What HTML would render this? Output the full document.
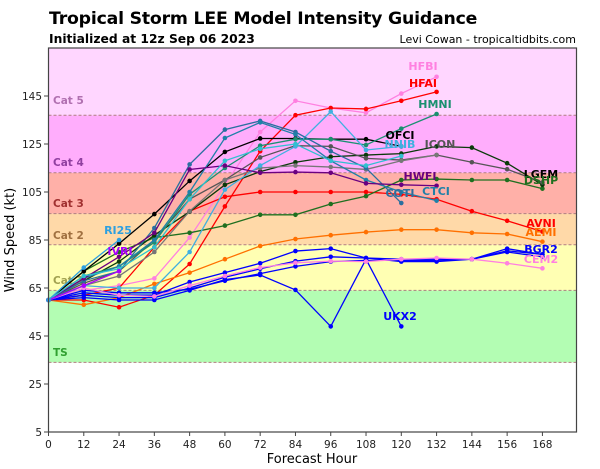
<!DOCTYPE html>
<html><head><meta charset="utf-8"><style>
html,body{margin:0;padding:0;background:#fff;}
svg{display:block;font-family:"DejaVu Sans","Liberation Sans",sans-serif;}
</style></head><body>
<svg id="s" width="600" height="469" xmlns="http://www.w3.org/2000/svg">
<text x="49" y="24" font-size="17.3" font-weight="bold" fill="#000" letter-spacing="-0.2">Tropical Storm LEE Model Intensity Guidance</text>
<text x="49" y="43" font-size="12.3" font-weight="bold" fill="#000">Initialized at 12z Sep 06 2023</text>
<text x="576" y="43" font-size="11" text-anchor="end" fill="#000">Levi Cowan - tropicaltidbits.com</text>
<g id="bands"></g>
<g id="lines"></g>
<g id="labels"></g>
<rect x="48.5" y="48" width="528" height="384" fill="none" stroke="#444" stroke-width="1.2"/>
<g id="ticks" font-size="10.5" fill="#222"></g>
<text x="312" y="463" font-size="13" text-anchor="middle">Forecast Hour</text>
<text transform="translate(14,240) rotate(-90)" font-size="13" text-anchor="middle">Wind Speed (kt)</text>
</svg>
<script>
var NS="http://www.w3.org/2000/svg";
function X(h){return 48.5+h*2.94;}
function Y(k){return 432-(k-5)*2.4;}
function el(p,t,a,txt){var e=document.createElementNS(NS,t);for(var k in a)e.setAttribute(k,a[k]);if(txt!=null)e.textContent=txt;document.getElementById(p).appendChild(e);return e;}
var bands=[[34,64,"#b3fdb3"],[64,83,"#ffffb3"],[83,96,"#ffd9a8"],[96,113,"#ffb0a8"],[113,137,"#ffadfc"],[137,165,"#ffd6ff"]];
bands.forEach(function(b){el("bands","rect",{x:48.5,y:Y(b[1]),width:528,height:Y(b[0])-Y(b[1]),fill:b[2]});});
[34,64,83,96,113,137].forEach(function(k){el("bands","line",{x1:48.5,x2:576.5,y1:Y(k),y2:Y(k),stroke:"#b08080","stroke-width":1,"stroke-dasharray":"3,2"});});
var cats=[["Cat 5",104,"#b070b0"],["Cat 4",166,"#9040a0"],["Cat 3",207,"#a03030"],["Cat 2",239,"#a07040"],["Cat 1",284,"#a0a050"],["TS",356,"#30a030"]];
cats.forEach(function(c){el("bands","text",{x:53,y:c[1],"font-size":10.5,"font-weight":"bold",fill:c[2]},c[0]);});
var H=[0,12,24,36,48,60,72,84,96,108,120,132,144,156,168];
var S=[
["#ff80e0",[60,64,66,69,86,108,130,143,140,138,146,153]],
["#ff0000",[60,60,57,62,75,99,122,137,140,139.6,143,146.7]],
["#ff0000",[60,62,65,82,97,103,105,105,105,105,104,102,97,93,88.5]],
["#ff7000",[60,58,61,66.7,71.4,77,82.5,85.4,87,88.3,89.3,89.3,88,87.5,84.3]],
["#0000ff",[60,63,62,62,67.5,71.4,75.3,80.4,81.4,77.5,77,77,77,81.4,79]],
["#0000ff",[60,62,61,61,65,69.5,73,76.2,78,77.5,76,76,77,80,78]],
["#0000ff",[60,61,60,60,64,68.5,70.4,64.2,49,77,49]],
["#0000ff",[60,64,63,63,64.5,68,71,74,76,76.5,76.5,76.5,77,80.5,79]],
["#ff80e0",[60,65,62,61.5,66,70,73.5,75.5,76.2,76,77,77.5,77,75.3,73.2]],
["#1f6f1f",[60,72,80,86,88,91,95.5,95.5,100,103.3,110,110.4,110,110,106.4]],
["#0a3a0a",[60,68,76,87,96.8,108,113.5,117.4,119.7,120.4,121,124,123.5,117,108]],
["#555555",[60,67,72,85,102,110,119.4,124.3,124,119,118.3,120.4,117.4,114.5,109]],
["#777777",[60,66,70,80,97,110,115,116,115.4,114.4,118,120.4]],
["#000000",[60,72,83.5,95.8,109.6,121.7,127.3,127.3,127,127,124]],
["#1a9070",[60,70,74,84,104,115,124.3,127,127,124.6,131.4,137.5]],
["#40b0e0",[60,66,65,65,80,106,116,124,138.5,122.5,124]],
["#2a6f9f",[60,68,72,90,116.5,131,134.6,130,122,115,100.4]],
["#1f80a8",[60,69,74,85,105,127.5,134,129,118,110,105,101.4]],
["#6a0080",[60,69,78,88,114.4,116,113,113.3,113,108.6,108,107.6]],
["#30c0d0",[60,70,73,82,102,118,123,125,118,116,120]],
["#aa00ff",[60,66,72]],
["#2ea0e0",[60,73.5,85]]
];
S.forEach(function(s){var pts=s[1].map(function(v,i){return X(H[i])+","+Y(v);}).join(" ");
el("lines","polyline",{points:pts,fill:"none",stroke:s[0],"stroke-width":1.3});
s[1].forEach(function(v,i){el("lines","circle",{cx:X(H[i]),cy:Y(v),r:2.3,fill:s[0]});});});
var L=[["HFBI",423,70,"#ff80e0"],["HFAI",423,87,"#ff0000"],["HMNI",435,108,"#1a9070"],["OFCI",400,139,"#000"],["NNIB",400,148,"#40b0e0"],["ICON",440,148,"#555"],["HWFI",420,180,"#6a0080"],["COTI",400,197,"#2a6f9f"],["CTCI",436,195,"#1f80a8"],["LGEM",541,178,"#000"],["DSHP",541,184,"#1f6f1f"],["AVNI",541,227,"#ff0000"],["AEMI",541,236,"#ff7000"],["BGR2",541,253,"#0000ff"],["CEM2",541,263,"#ff80e0"],["UKX2",400,320,"#0000ff"],["RI25",118,234,"#2ea0e0"],["IVRI",120,255,"#aa00ff"]];
L.forEach(function(l){el("labels","text",{x:l[1],y:l[2],"font-size":11,"font-weight":"bold",fill:l[3],"text-anchor":"middle"},l[0]);});
for(var k=5;k<=145;k+=20){el("ticks","line",{x1:44,x2:48.5,y1:Y(k),y2:Y(k),stroke:"#444"});el("ticks","text",{x:42,y:Y(k)+4,"text-anchor":"end"},k);}
H.forEach(function(h){el("ticks","line",{x1:X(h),x2:X(h),y1:432,y2:436,stroke:"#444"});el("ticks","text",{x:X(h),y:448,"text-anchor":"middle"},h);});
</script>
</body></html>
